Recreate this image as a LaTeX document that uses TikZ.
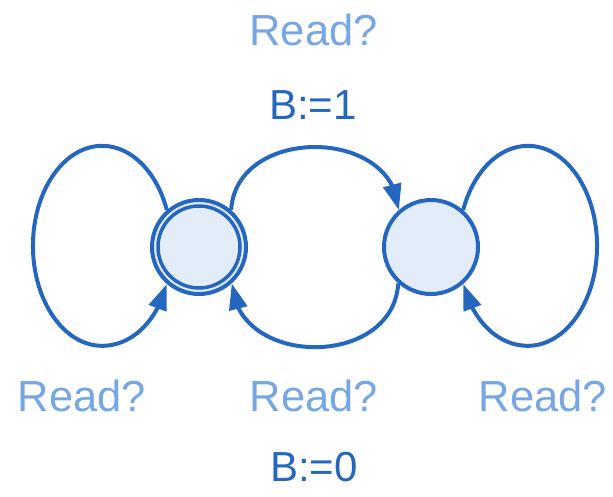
\documentclass[tikz,border=0pt]{standalone}
\usepackage{fontspec}
\setmainfont{Liberation Sans}
\usetikzlibrary{arrows.meta,bending}
\definecolor{edgeblue}{RGB}{37,102,190}
\definecolor{labelblue}{RGB}{118,166,228}
\definecolor{statefill}{RGB}{227,237,250}
\tikzset{
  state/.style={circle, draw=edgeblue, fill=statefill, line width=4pt,
    minimum size=94pt, inner sep=0pt},
  ring/.style={draw=edgeblue, line width=3.5pt},
  edge/.style={draw=edgeblue, line width=4pt,
    -{Triangle[length=26pt,width=18pt,flex]}},
  guard/.style={text=labelblue, anchor=base, inner sep=0pt,
    font=\fontsize{43.5}{50}\selectfont},
  update/.style={text=edgeblue, anchor=base, inner sep=0pt,
    font=\fontsize{42}{48}\selectfont},
}
\begin{document}
\begin{tikzpicture}[x=1pt, y=-1pt]
  \path[use as bounding box] (0,0) rectangle (613,496);

  % states
  \node[state] (L) at (199,247) {};
  \draw[ring] (L.center) circle[radius=41pt];
  \node[state] (R) at (431,247) {};

  % transition labels
  \node[guard] (gtop) at (313.5,45) {Read?};
  \node[update] (utop) at (313,119) {B:=1};
  \node[guard] (gleft) at (82,411) {Read?};
  \node[guard] (gmid) at (314,411) {Read?};
  \node[guard] (gright) at (543,411) {Read?};
  \node[update] (ubot) at (314,481) {B:=0};

  % L -> R over the top, R -> L underneath
  \draw[edge] (L.49) .. controls +(5,-84) and +(-5,-84) .. (R.131);
  \draw[edge] (R.228) .. controls +(-5,85) and +(5,85) .. (L.312);

  % self loops
  \draw[edge] (L.131)
    .. controls +(-10.3,-38.7) and +(28.7,0) .. ++(-64.7,-64.2)
    .. controls +(-38.2,0) and +(0,-55.2) .. ++(-69.2,100)
    .. controls +(0,55.2) and +(-38.2,0) .. ++(69.2,100)
    .. controls +(28.7,0) and +(-10.3,38.7) .. (L.229);
  \draw[edge] (R.49)
    .. controls +(10.3,-38.7) and +(-28.7,0) .. ++(64.7,-64.2)
    .. controls +(38.2,0) and +(0,-55.2) .. ++(69.2,100)
    .. controls +(0,55.2) and +(38.2,0) .. ++(-69.2,100)
    .. controls +(-28.7,0) and +(10.3,38.7) .. (R.311);
\end{tikzpicture}
\end{document}
